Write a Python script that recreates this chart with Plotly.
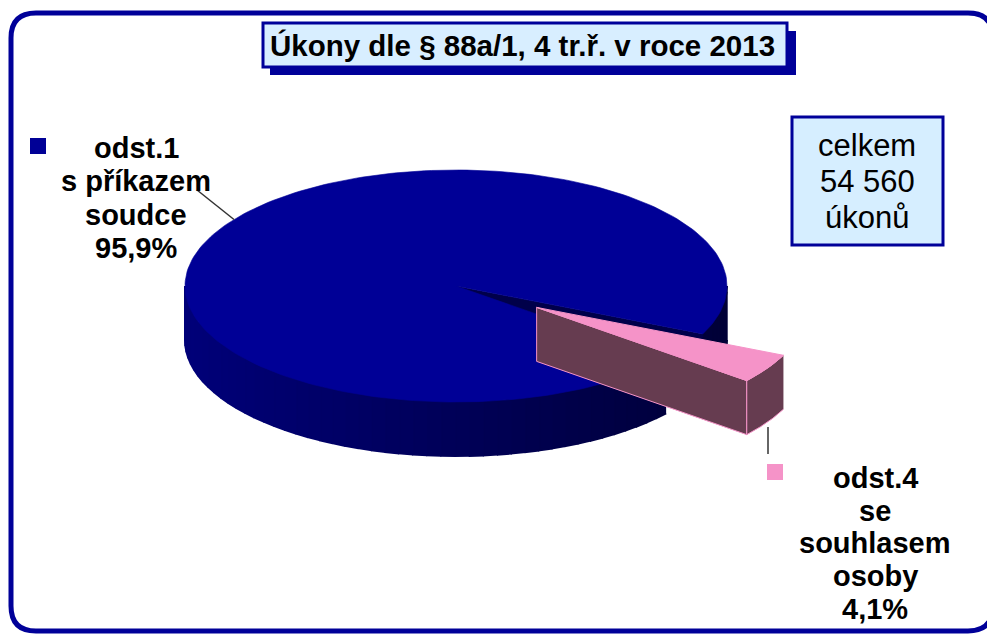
import numpy as np
import plotly.graph_objects as go

# ---------------- data ----------------
title_text = "Úkony dle § 88a/1, 4 tr.ř. v roce 2013"
slice_names = [["odst.1", "s příkazem", "soudce"],
               ["odst.4", "se", "souhlasem", "osoby"]]
slice_percent = [95.9, 4.1]
total_count = 54560
total_prefix = "celkem"
total_suffix = "úkonů"

# ---------------- style ----------------
W, H = 987, 635
NAVY = "#000099"
top_colors = ["#000096", "#F593C8"]
side_colors = ["#00004A", "#663C50"]
cx, cy, rx, ry, depth = 456, 286, 271, 116, 54
pink_start = 24.4        # degrees, clockwise on screen
explode = 0.35
FONT = "Liberation Sans, Arial, sans-serif"

fig = go.Figure()


def poly(xs, ys, fill, line=None, lw=0.6):
    fig.add_trace(go.Scatter(
        x=list(xs), y=list(ys), mode="lines", fill="toself", fillcolor=fill,
        line=dict(color=line or fill, width=lw), hoverinfo="skip",
        showlegend=False))


def P(t, ox=0.0, oy=0.0):
    r = np.radians(t)
    return cx + ox + rx * np.cos(r), cy + oy + ry * np.sin(r)


def arc(t0, t1, ox=0.0, oy=0.0, n=None):
    n = n or max(2, int(abs(t1 - t0) / 1.5) + 2)
    ts = np.linspace(t0, t1, n)
    xs, ys = P(ts, ox, oy)
    return list(xs), list(ys)


def visible_ranges(a0, a1):
    out = []
    for k in range(-1, 3):
        lo, hi = max(a0, 360 * k), min(a1, 360 * k + 180)
        if hi > lo:
            out.append((lo, hi))
    return out


def wall(a0, a1, ox, oy, color_fn, step=3.0, edge=None):
    for lo, hi in visible_ranges(a0, a1):
        n = max(1, int(np.ceil((hi - lo) / step)))
        edges = np.linspace(lo, hi, n + 1)
        for s0, s1 in zip(edges[:-1], edges[1:]):
            tx, ty = arc(s0, s1, ox, oy, n=4)
            bx, by = arc(s1, s0, ox, oy + depth, n=4)
            c = color_fn((s0 + s1) / 2)
            poly(tx + bx, ty + by, c, line=edge or c, lw=1 if edge else 2)


# angles from the data
spans = [360 * p / sum(slice_percent) for p in slice_percent]
pink_a0 = pink_start
pink_a1 = pink_start + spans[1]
blue_a0 = pink_a1
blue_a1 = pink_start + 360


def blue_shade(t):
    b = int(88 - 33 * np.cos(np.radians(t)))
    return f"rgb(0,0,{b})"


# ---- big slice (odst.1) ----
wall(blue_a0, blue_a1, 0, 0, blue_shade)
ex, ey = P(blue_a1)
poly([cx, ex, ex, cx], [cy, ey, ey + depth, cy + depth], side_colors[0])
ax_, ay_ = arc(blue_a0, blue_a1)
poly([cx] + ax_ + [cx], [cy] + ay_ + [cy], top_colors[0])

# ---- exploded slice (odst.4) ----
mid = np.radians((pink_a0 + pink_a1) / 2)
ox, oy = explode * rx * np.cos(mid), explode * ry * np.sin(mid)
pcx, pcy = cx + ox, cy + oy
qx, qy = P(pink_a1, ox, oy)
poly([pcx, qx, qx, pcx, pcx], [pcy, qy, qy + depth, pcy + depth, pcy],
     side_colors[1], line=top_colors[1], lw=1)
wall(pink_a0, pink_a1, ox, oy, lambda t: side_colors[1], step=40,
     edge=top_colors[1])
ax_, ay_ = arc(pink_a0, pink_a1, ox, oy)
poly([pcx] + ax_ + [pcx], [pcy] + ay_ + [pcy], top_colors[1],
     line=top_colors[1], lw=1)

# ---------------- frame, title, total box ----------------
x0, y0, x1, y1, r = 11, 13, 993, 631, 25
path = (f"M{x0+r},{y0} L{x1-r},{y0} Q{x1},{y0} {x1},{y0+r} L{x1},{y1-r} "
        f"Q{x1},{y1} {x1-r},{y1} L{x0+r},{y1} Q{x0},{y1} {x0},{y1-r} "
        f"L{x0},{y0+r} Q{x0},{y0} {x0+r},{y0} Z")
shapes = [dict(type="path", path=path, line=dict(color=NAVY, width=5),
               layer="above")]
shapes.append(dict(type="rect", x0=270, y0=31, x1=796, y1=75,
                   fillcolor=NAVY, line=dict(width=0), layer="below"))
shapes.append(dict(type="rect", x0=263, y0=23, x1=787, y1=67,
                   fillcolor="#D8EEFF", line=dict(color=NAVY, width=3),
                   layer="below"))
shapes.append(dict(type="rect", x0=792, y0=117, x1=943, y1=245,
                   fillcolor="#D6EEFF", line=dict(color=NAVY, width=3),
                   layer="below"))
# legend squares
shapes.append(dict(type="rect", x0=30, y0=138, x1=46, y1=154,
                   fillcolor=top_colors[0], line=dict(width=0)))
shapes.append(dict(type="rect", x0=767, y0=464, x1=783, y1=480,
                   fillcolor=top_colors[1], line=dict(width=0)))
# leader lines
lx, ly = P(215)
shapes.append(dict(type="line", x0=197, y0=190, x1=lx, y1=ly,
                   line=dict(color="#333333", width=1.5)))
shapes.append(dict(type="line", x0=768, y0=427, x1=768, y1=454,
                   line=dict(color="#333333", width=1.5)))

annotations = []
annotations.append(dict(x=522, y=45, text=f"<b>{title_text}</b>",
                        showarrow=False,
                        font=dict(family=FONT, size=29.5, color="black")))


def fmt_pct(p):
    return f"{p:.1f}".replace(".", ",") + "%"


def label(lines, xc, ytop, step):
    for i, t in enumerate(lines):
        annotations.append(dict(x=xc, y=ytop + i * step, text=f"<b>{t}</b>",
                                showarrow=False,
                                font=dict(family=FONT, size=29, color="black")))


label(slice_names[0] + [fmt_pct(slice_percent[0])], 136, 148, 33.3)
label(slice_names[1] + [fmt_pct(slice_percent[1])], 875, 478, 32.7)

total_lines = [total_prefix, f"{total_count:,}".replace(",", " "), total_suffix]
for i, t in enumerate(total_lines):
    annotations.append(dict(x=867, y=145 + i * 36, text=t, showarrow=False,
                            font=dict(family=FONT, size=31, color="black")))

fig.update_layout(
    width=W, height=H, margin=dict(l=0, r=0, t=0, b=0),
    paper_bgcolor="white", plot_bgcolor="white",
    xaxis=dict(range=[0, W], visible=False, fixedrange=True),
    yaxis=dict(range=[H, 0], visible=False, fixedrange=True),
    shapes=shapes, annotations=annotations, showlegend=False,
)
fig.write_html("out.html", config={"displayModeBar": False},
               post_script="document.body.style.margin='0';"
                           "document.body.style.overflow='hidden';")
